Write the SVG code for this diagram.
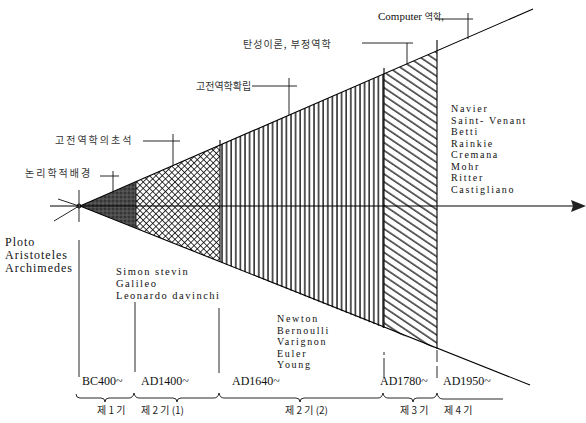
<svg xmlns="http://www.w3.org/2000/svg" width="586" height="423" viewBox="0 0 586 423">
<defs>
<style>
.ln{stroke:#000;stroke-width:1.1;fill:none}
.thin{stroke:#111;stroke-width:0.9;fill:none}
.en{font-family:"Liberation Serif",serif;font-size:12px;letter-spacing:1px;fill:#111}
.en2{font-family:"Liberation Serif",serif;font-size:10px;letter-spacing:1.7px;fill:#111}
.en3{font-family:"Liberation Serif",serif;font-size:10.5px;letter-spacing:1.5px;fill:#111}
.era{font-family:"Liberation Serif",serif;font-size:12px;fill:#111}
.ko{font-family:"Noto Sans CJK KR",sans-serif;font-size:10px;letter-spacing:2px;fill:#333}
.per{font-family:"Noto Sans CJK KR",sans-serif;font-size:10px;fill:#222}
</style>
<pattern id="cross" width="4.5" height="4.5" patternUnits="userSpaceOnUse" patternTransform="rotate(45)">
<rect width="4.5" height="4.5" fill="#fff"/>
<line x1="0" y1="0" x2="4.5" y2="0" stroke="#000" stroke-width="1.5"/>
<line x1="0" y1="0" x2="0" y2="4.5" stroke="#000" stroke-width="1.5"/>
</pattern>
<pattern id="vert" width="4.6" height="10" patternUnits="userSpaceOnUse" x="221">
<rect width="4.6" height="10" fill="#fff"/>
<line x1="1" y1="0" x2="1" y2="10" stroke="#000" stroke-width="1.3"/>
</pattern>
<pattern id="diag" width="10" height="6.5" patternUnits="userSpaceOnUse" patternTransform="rotate(34)">
<rect width="10" height="6.5" fill="#fff"/>
<line x1="0" y1="1" x2="10" y2="1" stroke="#000" stroke-width="1.2"/>
</pattern>
<pattern id="stip" width="4" height="4" patternUnits="userSpaceOnUse">
<rect width="4" height="4" fill="#4a4a4a"/>
<circle cx="1" cy="1" r="0.8" fill="#1a1a1a"/>
<circle cx="3" cy="3" r="0.6" fill="#808080"/>
</pattern>
</defs>

<g id="regions">
<polygon id="r0" points="80,206 136,182 136,228" fill="url(#stip)"/>
<polygon id="r1" points="136,182 220,145 220,262 136,228" fill="url(#cross)"/>
<polygon id="r2" points="220,145 384,74 384,328 220,262" fill="url(#vert)"/>
<polygon id="r3" points="384,74 437,51 437,349 384,328" fill="url(#diag)"/>
</g>

<g id="connectors">
<line class="ln" x1="80" y1="206" x2="533" y2="9"/>
<line class="ln" x1="80" y1="206" x2="530" y2="385"/>
<line class="ln" x1="50" y1="206" x2="574" y2="206"/>
<polygon points="586,206 571,200 573,206 571,212" fill="#222"/>
<line class="thin" x1="136" y1="182" x2="136" y2="228"/>
<line class="ln" x1="220" y1="140" x2="220" y2="262"/>
<line class="ln" x1="384" y1="68" x2="384" y2="328"/>
<line class="ln" x1="437" y1="40" x2="437" y2="349"/>
<line class="thin" x1="79" y1="190" x2="79" y2="222"/>
<line class="thin" x1="79" y1="206" x2="58" y2="199"/>
<line class="thin" x1="79" y1="206" x2="54" y2="221"/>
<circle cx="79" cy="206" r="2" fill="none" stroke="#000"/>
<path class="thin" d="M100,176 H119 M113,171 V192"/>
<path class="thin" d="M143,141 H180 M173,134 V166"/>
<path class="thin" d="M252,86 H297 M289,78 V115"/>
<path class="thin" d="M362,43 H413 M407,43 V64"/>
<path class="thin" d="M435,19 H473 M468,13 V39"/>
<line class="thin" x1="79" y1="240" x2="79" y2="377"/>
<line class="thin" x1="135" y1="302" x2="135" y2="372"/>
<line class="thin" x1="219" y1="308" x2="219" y2="373"/>
<line class="thin" x1="384" y1="352" x2="384" y2="378" stroke-dasharray="3 3 20"/>
<line class="thin" x1="437" y1="350" x2="437" y2="378" stroke-dasharray="12 4 12"/>
<path class="thin" d="M76,394 Q76,398 80,398 H101 Q105,398 105,402 Q105,398 109,398 H129 Q133,398 134,393"/>
<path class="thin" d="M134,393 Q135,398 139,398 H173 Q177,398 177,402 Q177,398 181,398 H214 Q218,398 219,393"/>
<path class="thin" d="M219,393 Q220,398 224,398 H296 Q300,398 300,402 Q300,398 304,398 H378 Q382,398 383,393"/>
<path class="thin" d="M383,393 Q384,398 388,398 H409 Q413,398 413,402 Q413,398 417,398 H432 Q436,398 437,393"/>
<path class="thin" d="M437,393 Q438,399 443,399 H503"/>
</g>

<g id="labels">
<text class="ko" x="25" y="177">논리학적배경</text>
<text class="ko" x="55" y="144">고전역학의초석</text>
<text class="ko" x="196" y="90" style="letter-spacing:0px">고전역학확립</text>
<text class="ko" x="243" y="48" style="letter-spacing:1px">탄성이론, 부정역학</text>
<text x="378" y="20" style="font-family:'Liberation Serif',serif;font-size:11px;fill:#111">Computer <tspan style="font-family:'Noto Sans CJK KR',sans-serif;font-size:9px">역학,</tspan></text>
</g>

<g id="names-right">
<text class="en2" x="451" y="112">Navier</text>
<text class="en2" x="451" y="123.5">Saint- Venant</text>
<text class="en2" x="451" y="135">Betti</text>
<text class="en2" x="451" y="146.5">Rainkie</text>
<text class="en2" x="451" y="158">Cremana</text>
<text class="en2" x="451" y="169.5">Mohr</text>
<text class="en2" x="451" y="181">Ritter</text>
<text class="en2" x="451" y="192.5">Castigliano</text>
</g>

<g id="names-ancient">
<text class="en" x="5" y="246">Ploto</text>
<text class="en" x="5" y="259">Aristoteles</text>
<text class="en" x="5" y="272">Archimedes</text>
</g>

<g id="names-renaissance">
<text class="en3" x="116" y="274.5">Simon stevin</text>
<text class="en3" x="116" y="286.8">Galileo</text>
<text class="en3" x="116" y="299.1">Leonardo davinchi</text>
</g>

<g id="names-classical">
<text class="en2" x="277" y="322">Newton</text>
<text class="en2" x="277" y="333.5">Bernoulli</text>
<text class="en2" x="277" y="345">Varignon</text>
<text class="en2" x="277" y="356.5">Euler</text>
<text class="en2" x="277" y="368">Young</text>
</g>

<g id="eras">
<text class="era" x="82" y="385">BC400~</text>
<text class="era" x="141" y="385">AD1400~</text>
<text class="era" x="232" y="385">AD1640~</text>
<text class="era" x="380" y="385">AD1780~</text>
<text class="era" x="443" y="385">AD1950~</text>
</g>

<g id="periods">
<text class="per" x="97" y="414">제 1 기</text>
<text class="per" x="141" y="414">제 2 기 (1)</text>
<text class="per" x="285" y="414">제 2 기 (2)</text>
<text class="per" x="400" y="414">제 3 기</text>
<text class="per" x="444" y="414">제 4 기</text>
</g>
</svg>
